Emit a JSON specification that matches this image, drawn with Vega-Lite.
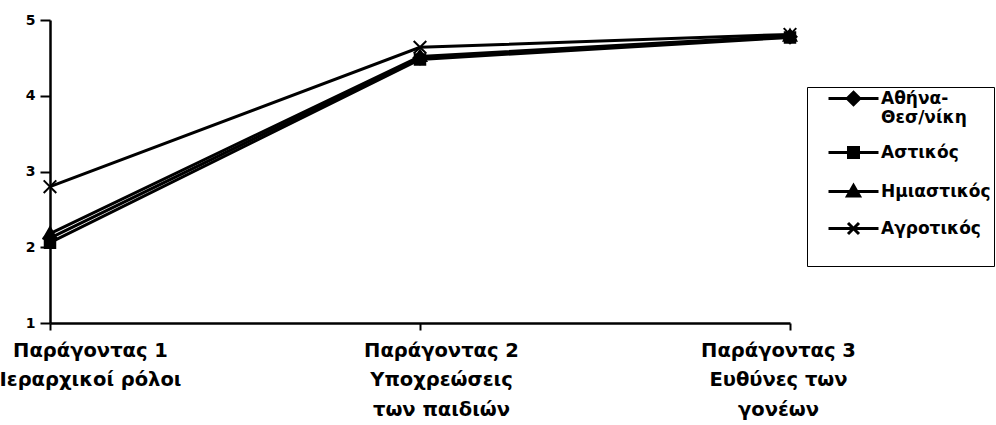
{
  "$schema": "https://vega.github.io/schema/vega-lite/v6.json",
  "autosize": "none",
  "width": 740,
  "height": 303,
  "padding": {"left": 50, "top": 20, "right": 206, "bottom": 102},
  "background": "white",
  "config": {
    "view": {"stroke": null},
    "font": "DejaVu Sans"
  },
  "data": {
    "values": [
      {"factor": "Παράγοντας 1\nΙεραρχικοί ρόλοι", "group": "Αθήνα-Θεσ/νίκη", "value": 2.12},
      {"factor": "Παράγοντας 1\nΙεραρχικοί ρόλοι", "group": "Αστικός", "value": 2.06},
      {"factor": "Παράγοντας 1\nΙεραρχικοί ρόλοι", "group": "Ημιαστικός", "value": 2.18},
      {"factor": "Παράγοντας 1\nΙεραρχικοί ρόλοι", "group": "Αγροτικός", "value": 2.8},
      {"factor": "Παράγοντας 2\nΥποχρεώσεις\nτων παιδιών", "group": "Αθήνα-Θεσ/νίκη", "value": 4.5},
      {"factor": "Παράγοντας 2\nΥποχρεώσεις\nτων παιδιών", "group": "Αστικός", "value": 4.48},
      {"factor": "Παράγοντας 2\nΥποχρεώσεις\nτων παιδιών", "group": "Ημιαστικός", "value": 4.52},
      {"factor": "Παράγοντας 2\nΥποχρεώσεις\nτων παιδιών", "group": "Αγροτικός", "value": 4.64},
      {"factor": "Παράγοντας 3\nΕυθύνες των\nγονέων", "group": "Αθήνα-Θεσ/νίκη", "value": 4.78},
      {"factor": "Παράγοντας 3\nΕυθύνες των\nγονέων", "group": "Αστικός", "value": 4.77},
      {"factor": "Παράγοντας 3\nΕυθύνες των\nγονέων", "group": "Ημιαστικός", "value": 4.79},
      {"factor": "Παράγοντας 3\nΕυθύνες των\nγονέων", "group": "Αγροτικός", "value": 4.81}
    ]
  },
  "encoding": {
    "x": {
      "field": "factor",
      "type": "nominal",
      "sort": null,
      "scale": {"type": "point", "padding": 0},
      "axis": {
        "title": null,
        "labelAngle": 0,
        "labelExpr": "split(datum.label, '\\n')",
        "labelFont": "DejaVu Sans",
        "labelFontSize": 19.5,
        "labelFontWeight": "bold",
        "labelColor": "black",
        "labelLineHeight": 29.5,
        "labelBaseline": "top",
        "labelPadding": 11,
        "labelLimit": 400,
        "labelBound": false,
        "labelOverlap": false,
        "labelOffset": {
          "condition": [
            {"test": "indexof(datum.value, 'Παράγοντας 1') >= 0", "value": 40},
            {"test": "indexof(datum.value, 'Παράγοντας 2') >= 0", "value": 21}
          ],
          "value": -12
        },
        "domainColor": "black",
        "domainWidth": 2.5,
        "tickColor": "black",
        "tickWidth": 2,
        "tickSize": 7,
        "grid": false
      }
    },
    "y": {
      "field": "value",
      "type": "quantitative",
      "scale": {"domain": [1, 5], "nice": false, "zero": false},
      "axis": {
        "title": null,
        "values": [1, 2, 3, 4, 5],
        "format": "d",
        "labelFont": "DejaVu Sans",
        "labelFontSize": 14,
        "labelFontWeight": "bold",
        "labelColor": "black",
        "labelPadding": 5,
        "domainColor": "black",
        "domainWidth": 2.5,
        "tickColor": "black",
        "tickWidth": 2,
        "tickSize": 10,
        "grid": false
      }
    }
  },
  "layer": [
    {
      "mark": {"type": "line", "color": "black", "strokeWidth": 3},
      "encoding": {"detail": {"field": "group"}}
    },
    {
      "mark": {"type": "point", "filled": true, "fill": "black", "stroke": "black", "strokeWidth": 2, "opacity": 1, "size": 110},
      "encoding": {
        "shape": {
          "field": "group",
          "type": "nominal",
          "scale": {
            "domain": ["Αθήνα-Θεσ/νίκη", "Αστικός", "Ημιαστικός", "Αγροτικός"],
            "range": [
              "M0,-1.25L1.25,0L0,1.25L-1.25,0Z",
              "M-1,-1H1V1H-1Z",
              "M0,-1.2L1.2,0.9L-1.2,0.9Z",
              "M-1.2,-1.2L1.2,1.2M-1.2,1.2L1.2,-1.2"
            ]
          },
          "legend": null
        }
      }
    },
    {
      "mark": {"type": "point", "filled": false, "color": "black", "fill": "black", "strokeWidth": 3, "opacity": 0, "size": 100},
      "encoding": {
        "shape": {
          "field": "group",
          "type": "nominal",
          "scale": {
            "domain": ["Αθήνα-Θεσ/νίκη", "Αστικός", "Ημιαστικός", "Αγροτικός"],
            "range": [
              "M-5,0H5M0,-1.25L1.25,0L0,1.25L-1.25,0Z",
              "M-5,0H5M-1,-1H1V1H-1Z",
              "M-5,0H5M0,-1.2L1.2,0.9L-1.2,0.9Z",
              "M-5,0H5M-1.1,-1.1L1.1,1.1M-1.1,1.1L1.1,-1.1"
            ]
          },
          "legend": {
            "title": "\u00a0\u00a0\u00a0\u00a0\u00a0\u00a0\u00a0\u00a0\u00a0\u00a0\u00a0\u00a0\u00a0\u00a0\u00a0\u00a0\u00a0\u00a0\u00a0\u00a0\u00a0\u00a0\u00a0\u00a0\u00a0\u00a0\u00a0\u00a0\u00a0\u00a0\u00a0\u00a0\u00a0\u00a0\u00a0\u00a0\u00a0\u00a0\u00a0\u00a0\u00a0\u00a0\u00a0\u00a0\u00a0\u00a0\u00a0\u00a0\u00a0\u00a0",
            "titleOrient": "bottom",
            "titleFontSize": 12,
            "titlePadding": 12,
            "titleLimit": 400,
            "orient": "none",
            "legendX": 757,
            "legendY": 67,
            "padding": 3,
            "strokeColor": "black",
            "fillColor": "white",
            "symbolSize": 100,
            "symbolOffset": 35,
            "symbolOpacity": 1,
            "symbolStrokeWidth": 3,
            "labelOffset": 19,
            "labelFont": "DejaVu Sans",
            "labelFontSize": 17,
            "labelFontWeight": "bold",
            "labelColor": "black",
            "labelLineHeight": 18,
            "labelLimit": 300,
            "rowPadding": 15,
            "labelExpr": "datum.label === 'Αθήνα-Θεσ/νίκη' ? ['Αθήνα-', 'Θεσ/νίκη'] : datum.label"
          }
        }
      }
    }
  ],
  "resolve": {"scale": {"shape": "independent"}, "legend": {"shape": "independent"}}
}
